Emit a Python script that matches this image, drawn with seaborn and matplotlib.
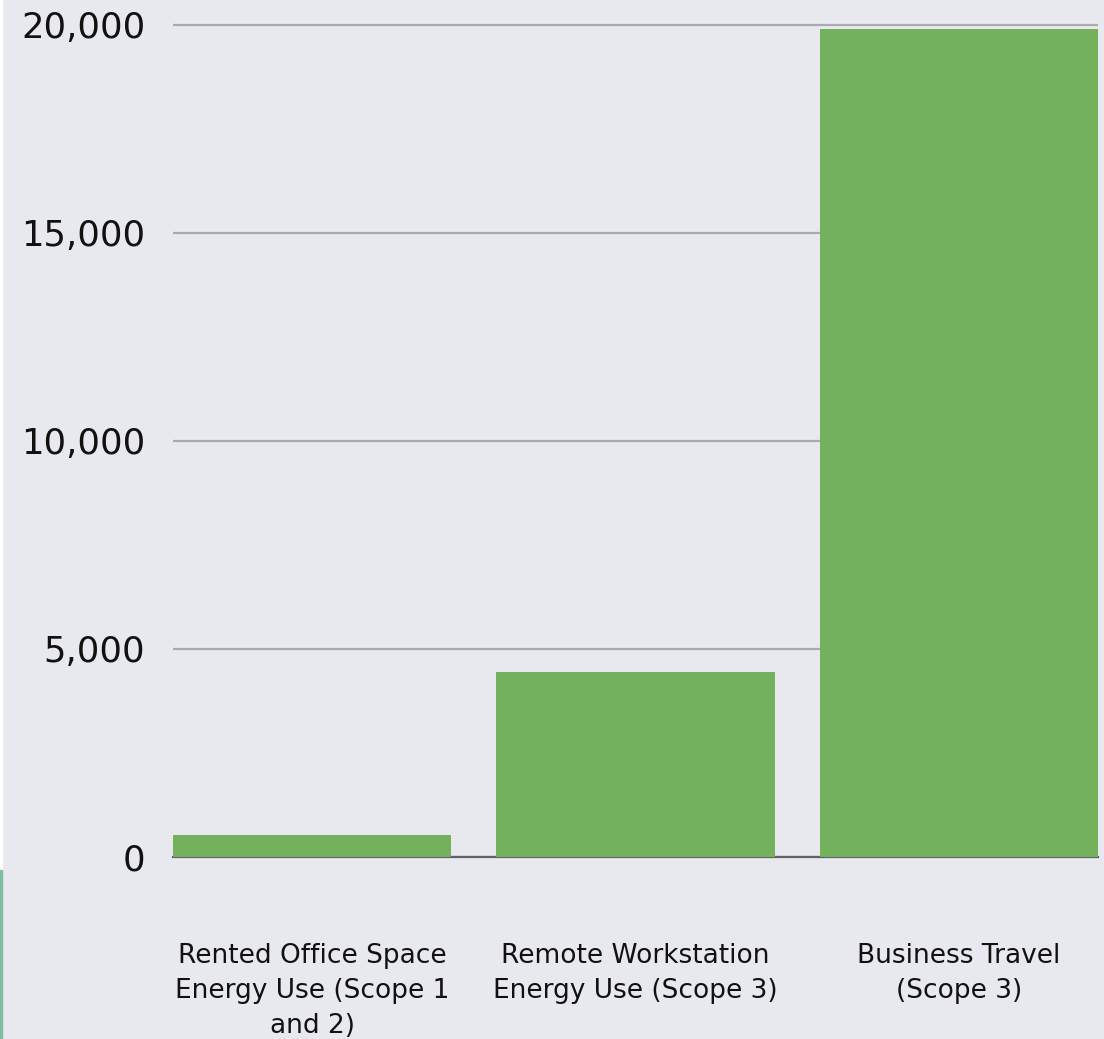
import matplotlib
matplotlib.use("Agg")
import matplotlib.pyplot as plt
import matplotlib.patches as mpatches
from matplotlib.ticker import FuncFormatter
import seaborn as sns
import pandas as pd

categories = [
    "Rented Office Space\nEnergy Use (Scope 1\nand 2)",
    "Remote Workstation\nEnergy Use (Scope 3)",
    "Business Travel\n(Scope 3)",
]
emissions = [530, 4450, 19900]
y_ticks = [0, 5000, 10000, 15000, 20000]

BG = "#e8e9ee"
BAR = "#74b15c"
GRID = "#aaaab0"
AXIS = "#5f5f66"

sns.set_style("white", rc={"axes.facecolor": BG, "figure.facecolor": BG})
plt.rcParams["font.family"] = ["DejaVu Sans"]

df = pd.DataFrame({"category": categories, "value": emissions})

fig = plt.figure(figsize=(11.04, 10.39), dpi=100)
ax = fig.add_axes([173 / 1104, (1039 - 857) / 1039, 925 / 1104, (857 - 20.8) / 1039])

sns.barplot(data=df, x="category", y="value", order=categories, color=BAR,
            saturation=1, width=0.86, ax=ax, zorder=3, linewidth=0, edgecolor="none")

ax.set_xlim(-0.43, 2.43)
ax.set_ylim(0, 20100)
ax.set_yticks(y_ticks)
ax.yaxis.set_major_formatter(FuncFormatter(lambda v, p: f"{int(v):,}"))

ax.grid(axis="y", color=GRID, linewidth=1.6, zorder=0)
ax.grid(axis="x", visible=False)
ax.set_axisbelow(True)

for s in ["top", "right", "left"]:
    ax.spines[s].set_visible(False)
ax.spines["bottom"].set_color(AXIS)
ax.spines["bottom"].set_linewidth(1.6)
ax.spines["bottom"].set_zorder(1)

ax.tick_params(axis="y", length=0, pad=20, labelsize=25.5, labelcolor="#111111")
ax.tick_params(axis="x", length=0, pad=62, labelsize=19, labelcolor="#111111")
for lab in ax.get_xticklabels():
    lab.set_multialignment("center")
    lab.set_linespacing(1.45)

ax.set_xlabel("")
ax.set_ylabel("")

# thin strips along the left page edge
fig.patches.append(mpatches.Rectangle((0, (1039 - 870) / 1039), 2 / 1104, 870 / 1039,
                                      transform=fig.transFigure, color="white", zorder=0))
fig.patches.append(mpatches.Rectangle((0, 0), 2 / 1104, (1039 - 870) / 1039,
                                      transform=fig.transFigure, color="#7fbf9f", zorder=0))

fig.savefig("out.png", dpi=100, facecolor=BG)
